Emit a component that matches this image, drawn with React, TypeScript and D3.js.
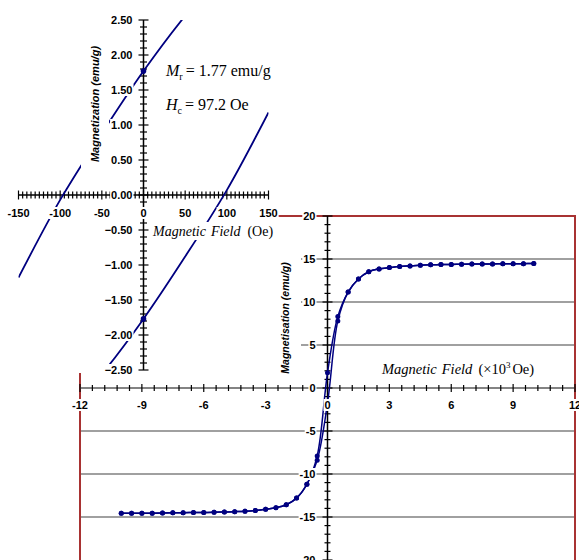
import React from "react";
import * as d3 from "d3";

const width = 579;
const height = 560;

// full loop, field in 10^3 Oe, magnetisation in emu/g
const fieldKOe = [
  -10, -9.5, -9, -8.5, -8, -7.5, -7, -6.5, -6, -5.5, -5, -4.5, -4, -3.5, -3, -2.5, -2, -1.5, -1, -0.5,
  0, 0.5, 1, 1.5, 2, 2.5, 3, 3.5, 4, 4.5, 5, 5.5, 6, 6.5, 7, 7.5, 8, 8.5, 9, 9.5, 10
];
// descending branch (coming down from +10)
const magDown = [
  -14.56, -14.56, -14.55, -14.55, -14.53, -14.52, -14.5, -14.48, -14.47, -14.45, -14.42, -14.38, -14.33, -14.24, -14.1, -13.92, -13.57, -12.8, -11.2, -7.9,
  1.77, 8.3, 11.15, 12.68, 13.52, 13.85, 14.0, 14.13, 14.2, 14.27, 14.32, 14.35, 14.37, 14.39, 14.41, 14.42, 14.43, 14.44, 14.45, 14.46, 14.47
];
// ascending branch (going up from -10)
const magUp = [
  -14.56, -14.56, -14.55, -14.55, -14.53, -14.52, -14.5, -14.48, -14.47, -14.45, -14.42, -14.38, -14.33, -14.24, -14.1, -13.92, -13.57, -12.8, -11.2, -8.4,
  -1.77, 7.8, 11.15, 12.68, 13.52, 13.85, 14.0, 14.13, 14.2, 14.27, 14.32, 14.35, 14.37, 14.39, 14.41, 14.42, 14.43, 14.44, 14.45, 14.46, 14.47
];

// low field zoom, field in Oe
const insetField = [-150, -100, -50, 0, 50, 100, 150];
const insetDown = [-1.18, -0.07, 0.88, 1.77, 2.56, 3.25, 3.85];
const insetUp = [-3.85, -3.25, -2.56, -1.77, -0.88, 0.07, 1.18];

const mainXTicks = [-12, -9, -6, -3, 0, 3, 6, 9, 12];
const mainYTicks = [-20, -15, -10, -5, 0, 5, 10, 15, 20];
const mainGrid = [-15, -10, -5, 5, 10, 15];
const insetXTicks = [-150, -100, -50, 0, 50, 100, 150];
const insetYTicks = [-2.5, -2, -1.5, -1, -0.5, 0, 0.5, 1, 1.5, 2, 2.5];

const sans = "'Liberation Sans', Arial, sans-serif";
const serif = "'Liberation Serif', 'Times New Roman', serif";
const navy = "#000080";
const red = "#a83232";

// main plot
const x = d3.scaleLinear().domain([-12, 12]).range([80, 575]);
const y = d3.scaleLinear().domain([-20, 20]).range([560, 216]);
// inset plot
const xi = d3.scaleLinear().domain([-150, 150]).range([18.5, 268.5]);
const yi = d3.scaleLinear().domain([-2.5, 2.5]).range([370, 20]);

function labelWidth(s, size) {
  let w = 0;
  for (const c of s) w += c === "-" ? 0.333 : c === "." ? 0.278 : 0.556;
  return w * size;
}

// tick label sitting on a white box, like the original
const TickLabel = ({ px, py, text, anchor }) => {
  const w = labelWidth(text, 11) + 2;
  const left = anchor === "end" ? px - w + 1 : px - w / 2;
  return (
    <g>
      <rect x={left} y={py - 6} width={w} height={12} fill="white" />
      <text
        x={px}
        y={py}
        textAnchor={anchor}
        dominantBaseline="central"
        fontFamily={sans}
        fontWeight="bold"
        fontSize={11}
      >
        {text}
      </text>
    </g>
  );
};

export default function App() {
  const mainLine = d3
    .line()
    .x((d) => x(d[0]))
    .y((d) => y(d[1]))
    .curve(d3.curveCatmullRom.alpha(0.5));
  const insetLine = d3
    .line()
    .x((d) => xi(d[0]))
    .y((d) => yi(d[1]))
    .curve(d3.curveCatmullRom.alpha(0.5));

  const down = fieldKOe.map((h, i) => [h, magDown[i]]).reverse();
  const up = fieldKOe.map((h, i) => [h, magUp[i]]);
  const insDown = insetField.map((h, i) => [h, insetDown[i]]).reverse();
  const insUp = insetField.map((h, i) => [h, insetUp[i]]);
  // measured points falling inside the inset window
  const insetPts = [...down, ...up]
    .map((d) => [d[0] * 1000, d[1]])
    .filter((d) => Math.abs(d[0]) <= 150 && Math.abs(d[1]) <= 2.5);

  const mainMinorX = d3.range(0, 41).map((i) => -12 + i * 0.6);
  const mainMinorY = d3.range(-20, 21);
  const insetMinorX = d3.range(-150, 151, 5);
  const insetMinorY = d3.range(-25, 26).map((i) => i / 10);

  const x0 = x(0);
  const y0 = y(0);
  const xi0 = xi(0);
  const yi0 = yi(0);

  return (
    <svg width={width} height={height} style={{ position: "absolute", left: 0, top: 0 }}>
      <rect width={width} height={height} fill="white" />

      {/* ---------- main chart ---------- */}
      <g id="main">
        {mainGrid.map((v) => (
          <line key={v} x1={x(-12)} x2={x(12)} y1={y(v)} y2={y(v)} stroke="#808080" strokeWidth={1.5} />
        ))}
        <rect x={x(-12)} y={y(20)} width={x(12) - x(-12)} height={y(-20) - y(20) + 2} fill="none" stroke={red} strokeWidth={2} />

        <line x1={x(-12)} x2={x(12)} y1={y0} y2={y0} stroke="#5a5a5a" strokeWidth={1.5} />
        {mainMinorX.map((v, i) => (
          <line key={i} x1={x(v)} x2={x(v)} y1={y0 - (i % 5 === 0 ? 4 : 3)} y2={y0 + (i % 5 === 0 ? 4 : 3)} stroke="black" strokeWidth={1.2} />
        ))}
        <line x1={x0} x2={x0} y1={y(20)} y2={y(-20)} stroke="black" strokeWidth={1.5} />
        {mainMinorY.map((v) => (
          <line key={v} x1={x0 - (v % 5 === 0 ? 5 : 3)} x2={x0 + (v % 5 === 0 ? 5 : 3)} y1={y(v)} y2={y(v)} stroke="black" strokeWidth={1.2} />
        ))}

        <path d={mainLine(down)} fill="none" stroke={navy} strokeWidth={1.5} />
        <path d={mainLine(up)} fill="none" stroke={navy} strokeWidth={1.5} />
        {[...down, ...up].map((d, i) => (
          <circle key={i} cx={x(d[0])} cy={y(d[1])} r={2.5} fill={navy} />
        ))}

        {mainXTicks.map((v) => (
          <TickLabel key={v} px={x(v)} py={405} text={String(v)} anchor="middle" />
        ))}
        {mainYTicks.map((v) => (
          <TickLabel key={v} px={x0 - 12} py={y(v)} text={String(v)} anchor="end" />
        ))}

        <text x={382} y={374} fontFamily={serif} fontSize={14.5}>
          <tspan fontStyle="italic">Magnetic</tspan>
          <tspan fontStyle="italic" dx={5}>Field</tspan>
          <tspan dx={6}>(×10</tspan>
          <tspan fontSize={9} dy={-6}>3</tspan>
          <tspan dy={6} dx={2}>Oe)</tspan>
        </text>

        <rect x={277} y={224} width={24} height={158} fill="white" />
        <text
          transform={`translate(285 ${318}) rotate(-90)`}
          textAnchor="middle"
          dominantBaseline="central"
          fontFamily={sans}
          fontWeight="bold"
          fontStyle="italic"
          fontSize={10.5}
        >
          Magnetisation  (emu/g)
        </text>
      </g>

      {/* ---------- low field inset ---------- */}
      <g id="inset">
        <rect x={0} y={0} width={278} height={373} fill="white" />
        <defs>
          <clipPath id="insetClip">
            <rect x={xi(-150)} y={yi(2.5)} width={xi(150) - xi(-150)} height={yi(-2.5) - yi(2.5)} />
          </clipPath>
        </defs>

        <line x1={xi(-150)} x2={xi(150)} y1={yi0} y2={yi0} stroke="black" strokeWidth={1.5} />
        {insetMinorX.map((v) => (
          <line key={v} x1={xi(v)} x2={xi(v)} y1={yi0 - (v % 50 === 0 ? 4.5 : 3.5)} y2={yi0 + (v % 50 === 0 ? 4.5 : 3.5)} stroke="black" strokeWidth={1.2} />
        ))}
        <line x1={xi0} x2={xi0} y1={yi(2.5)} y2={yi(-2.5)} stroke="black" strokeWidth={1.5} />
        {insetMinorY.map((v, i) => (
          <line key={i} x1={xi0 - (i % 5 === 0 ? 5 : 3.5)} x2={xi0 + (i % 5 === 0 ? 5 : 3.5)} y1={yi(v)} y2={yi(v)} stroke="black" strokeWidth={1.2} />
        ))}

        <g clipPath="url(#insetClip)">
          <path d={insetLine(insDown)} fill="none" stroke={navy} strokeWidth={1.8} />
          <path d={insetLine(insUp)} fill="none" stroke={navy} strokeWidth={1.8} />
        </g>
        {insetPts.map((d, i) => (
          <circle key={i} cx={xi(d[0])} cy={yi(d[1])} r={2.8} fill={navy} />
        ))}

        {insetXTicks.map((v) => (
          <TickLabel key={v} px={xi(v)} py={213} text={String(v)} anchor="middle" />
        ))}
        {insetYTicks.map((v) => (
          <TickLabel key={v} px={xi0 - 11} py={yi(v)} text={d3.format(".2f")(v)} anchor="end" />
        ))}

        <rect x={81} y={38} width={28} height={134} fill="white" />
        <text
          transform={`translate(95 ${104}) rotate(-90)`}
          textAnchor="middle"
          dominantBaseline="central"
          fontFamily={sans}
          fontWeight="bold"
          fontStyle="italic"
          fontSize={11}
        >
          Magnetization  (emu/g)
        </text>

        <rect x={152} y={222} width={126} height={18} fill="white" />
        <text x={153} y={236} fontFamily={serif} fontSize={14}>
          <tspan fontStyle="italic">Magnetic</tspan>
          <tspan fontStyle="italic" dx={5}>Field</tspan>
          <tspan dx={7}>(Oe)</tspan>
        </text>

        <text x={166} y={76} fontFamily={serif} fontSize={16}>
          <tspan fontStyle="italic">M</tspan>
          <tspan fontSize={10} dy={4}>r</tspan>
          <tspan dy={-4} dx={3}>= 1.77 emu/g</tspan>
        </text>
        <text x={166} y={110} fontFamily={serif} fontSize={16}>
          <tspan fontStyle="italic">H</tspan>
          <tspan fontSize={10} dy={4}>c</tspan>
          <tspan dy={-4} dx={3}>= 97.2 Oe</tspan>
        </text>
      </g>
    </svg>
  );
}
